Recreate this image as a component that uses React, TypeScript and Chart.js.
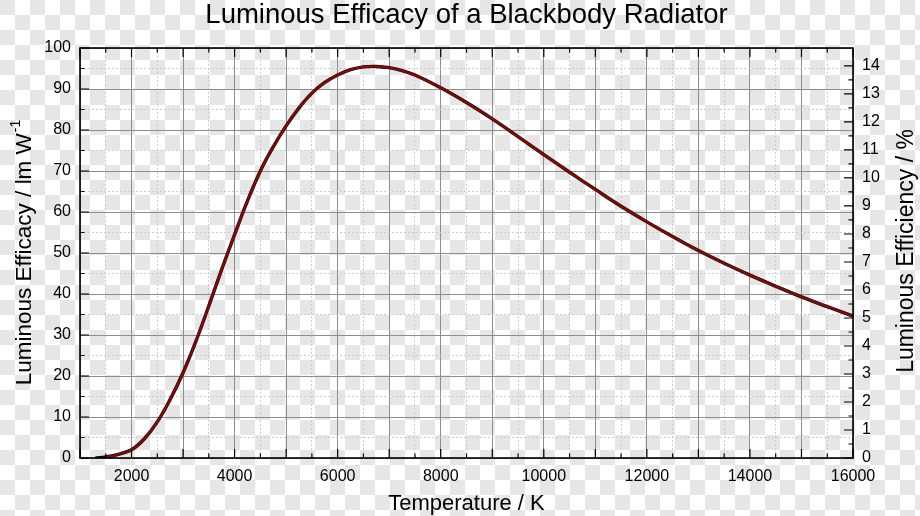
import React, { useEffect, useRef } from 'react';
import { Chart, registerables } from 'chart.js';

Chart.register(...registerables);

// ---- data ----
const temperatures = [
  1300, 1500, 1750, 2000, 2250, 2500, 2750, 3000, 3250, 3500, 3750, 4000, 4250, 4500, 4750,
  5000, 5250, 5500, 5750, 6000, 6250, 6500, 6750, 7000, 7250, 7500, 8000, 8500, 9000, 9500, 10000,
  10500, 11000, 11500, 12000, 12500, 13000, 13500, 14000, 14500, 15000, 15500, 16000,
];
const efficacy = [
  0.0, 0.25, 0.9, 2.0, 4.7, 8.8, 14.3, 20.8, 28.5, 37.1, 46.0, 54.5, 62.7, 70.0, 75.9,
  81.0, 85.4, 89.0, 91.6, 93.4, 94.7, 95.4, 95.5, 95.2, 94.5, 93.4, 90.3, 86.7, 82.7, 78.4, 74.0,
  69.7, 65.5, 61.4, 57.6, 54.0, 50.6, 47.5, 44.6, 41.9, 39.3, 36.9, 34.6,
];
const redStartTemperature = 1500;

const xTickLabels = [2000, 4000, 6000, 8000, 10000, 12000, 14000, 16000];
const leftTickLabels = [0, 10, 20, 30, 40, 50, 60, 70, 80, 90, 100];
const rightTickLabels = [0, 1, 2, 3, 4, 5, 6, 7, 8, 9, 10, 11, 12, 13, 14];

const TITLE = 'Luminous Efficacy of a Blackbody Radiator';
const X_TITLE = 'Temperature / K';
const Y_TITLE = 'Luminous Efficacy / lm W';
const Y_TITLE_SUP = '-1';
const Y1_TITLE = 'Luminous Efficiency / %';
const MAX_EFFICACY = 683; // lm/W at 100 %

const X_MIN = 1000;
const X_MAX = 16000;
const Y_MIN = 0;
const Y_MAX = 100;

const FONT = "'Liberation Sans', Arial, Helvetica, sans-serif";
const MAJOR_GRID = '#8e8e8e';
const MINOR_GRID = '#cdcdcd';

const axisDecor = {
  id: 'axisDecor',
  afterDatasetsDraw(chart: any) {
    const { ctx, chartArea } = chart;
    const { left, right, top, bottom } = chartArea;
    const sx = chart.scales.x;
    const sy = chart.scales.y;
    const sy1 = chart.scales.y1;
    ctx.save();
    ctx.strokeStyle = '#000';
    ctx.lineWidth = 1.2;
    ctx.beginPath();
    sx.ticks.forEach((t: any) => {
      const px = sx.getPixelForValue(t.value);
      const len = t.value % 1000 === 0 ? 9 : 4.5;
      ctx.moveTo(px, bottom);
      ctx.lineTo(px, bottom - len);
      ctx.moveTo(px, top);
      ctx.lineTo(px, top + len);
    });
    sy.ticks.forEach((t: any) => {
      const py = sy.getPixelForValue(t.value);
      const len = t.value % 10 === 0 ? 9 : 4.5;
      ctx.moveTo(left, py);
      ctx.lineTo(left + len, py);
    });
    sy1.ticks.forEach((t: any) => {
      const v = t.value;
      if (Math.abs(v * 2 - Math.round(v * 2)) > 1e-6) return;
      const py = sy1.getPixelForValue(v);
      const len = Number.isInteger(v) ? 9 : 4.5;
      ctx.moveTo(right, py);
      ctx.lineTo(right - len, py);
    });
    ctx.stroke();
    ctx.lineWidth = 1.6;
    ctx.strokeRect(left, top, right - left, bottom - top);
    ctx.restore();
  },
  afterDraw(chart: any) {
    const { ctx, chartArea } = chart;
    const cy = (chartArea.top + chartArea.bottom) / 2;
    ctx.save();
    ctx.fillStyle = '#000';
    ctx.textBaseline = 'alphabetic';
    ctx.textAlign = 'left';
    // left title with superscript
    ctx.font = `22.5px ${FONT}`;
    const w1 = ctx.measureText(Y_TITLE).width;
    ctx.font = `14px ${FONT}`;
    const w2 = ctx.measureText(Y_TITLE_SUP).width;
    ctx.translate(31, cy);
    ctx.rotate(-Math.PI / 2);
    const start = -(w1 + w2) / 2;
    ctx.font = `22.5px ${FONT}`;
    ctx.fillText(Y_TITLE, start, 0);
    ctx.font = `14px ${FONT}`;
    ctx.fillText(Y_TITLE_SUP, start + w1 + 1, -11);
    ctx.restore();

    ctx.save();
    ctx.fillStyle = '#000';
    ctx.textBaseline = 'alphabetic';
    ctx.textAlign = 'center';
    ctx.font = `23px ${FONT}`;
    ctx.translate(913, cy - 2);
    ctx.rotate(-Math.PI / 2);
    ctx.fillText(Y1_TITLE, 0, 0);
    ctx.restore();
  },
};

export default function App() {
  const canvasRef = useRef<HTMLCanvasElement | null>(null);

  useEffect(() => {
    const canvas = canvasRef.current;
    if (!canvas) return;
    const points = temperatures.map((t, i) => ({ x: t, y: efficacy[i] }));
    const redPoints = points.filter((p) => p.x >= redStartTemperature);

    const minorOnly = (step: number) => (s: any) => {
      s.ticks = s.ticks.filter((t: any) => Math.abs(t.value % step) > 1e-6);
    };

    const chart = new Chart(canvas, {
      type: 'line',
      data: {
        datasets: [
          {
            data: redPoints,
            borderColor: '#7c0c0c',
            borderWidth: 2.4,
            pointRadius: 0,
            tension: 0.4,
            yAxisID: 'y',
            order: 1,
          },
          {
            data: points,
            borderColor: '#1c0505',
            borderWidth: 3.4,
            pointRadius: 0,
            tension: 0.4,
            yAxisID: 'y',
            order: 2,
          },
        ],
      },
      options: {
        animation: false,
        responsive: true,
        maintainAspectRatio: false,
        layout: { padding: 0 },
        font: { family: FONT },
        plugins: {
          legend: { display: false },
          tooltip: { enabled: false },
          title: {
            display: true,
            text: TITLE,
            color: '#000',
            fullSize: false,
            font: { family: FONT, size: 27.5, weight: 'normal', lineHeight: 1.0 },
            padding: { top: 2, bottom: 18.5 },
          },
        },
        scales: {
          x: {
            type: 'linear',
            position: 'bottom',
            min: X_MIN,
            max: X_MAX,
            afterFit: (s: any) => {
              s.height = 58;
            },
            ticks: {
              stepSize: 500,
              autoSkip: false,
              maxRotation: 0,
              padding: 9,
              color: '#000',
              font: { family: FONT, size: 16 },
              callback: (v: any) => (xTickLabels.includes(v) ? String(v) : ''),
            },
            grid: {
              drawTicks: false,
              color: (c: any) => (c.tick && c.tick.value % 1000 === 0 ? MAJOR_GRID : 'rgba(0,0,0,0)'),
              lineWidth: 1,
            },
            border: { display: false },
            title: {
              display: true,
              text: X_TITLE,
              color: '#000',
              font: { family: FONT, size: 22, lineHeight: 1.1 },
              padding: { top: 0, bottom: 0 },
            },
          },
          xMinor: {
            type: 'linear',
            position: 'bottom',
            min: X_MIN,
            max: X_MAX,
            afterBuildTicks: minorOnly(1000),
            afterFit: (s: any) => {
              s.height = 0;
            },
            ticks: { stepSize: 500, autoSkip: false, display: false },
            grid: { drawTicks: false, color: MINOR_GRID, lineWidth: 1 },
            border: { display: false, dash: [2, 2] },
          },
          y: {
            type: 'linear',
            position: 'left',
            min: Y_MIN,
            max: Y_MAX,
            afterFit: (s: any) => {
              s.width = 80;
            },
            ticks: {
              stepSize: 5,
              autoSkip: false,
              padding: 9,
              color: '#000',
              font: { family: FONT, size: 16 },
              callback: (v: any) => (leftTickLabels.includes(v) ? String(v) : ''),
            },
            grid: {
              drawTicks: false,
              color: (c: any) => (c.tick && c.tick.value % 10 === 0 ? MAJOR_GRID : 'rgba(0,0,0,0)'),
              lineWidth: 1,
            },
            border: { display: false },
          },
          yMinor: {
            type: 'linear',
            position: 'left',
            min: Y_MIN,
            max: Y_MAX,
            afterBuildTicks: minorOnly(10),
            afterFit: (s: any) => {
              s.width = 0;
            },
            ticks: { stepSize: 5, autoSkip: false, display: false },
            grid: { drawTicks: false, color: MINOR_GRID, lineWidth: 1 },
            border: { display: false, dash: [2, 2] },
          },
          y1: {
            type: 'linear',
            position: 'right',
            min: 0,
            max: (Y_MAX / MAX_EFFICACY) * 100,
            afterFit: (s: any) => {
              s.width = 67;
            },
            ticks: {
              stepSize: 0.5,
              autoSkip: false,
              padding: 9,
              color: '#000',
              font: { family: FONT, size: 16 },
              callback: (v: any) => (rightTickLabels.includes(v) ? String(v) : ''),
            },
            grid: { drawTicks: false, drawOnChartArea: false },
            border: { display: false },
          },
        },
      },
      plugins: [axisDecor],
    } as any);

    return () => {
      chart.destroy();
    };
  }, []);

  return (
    <div
      style={{
        position: 'fixed',
        left: 0,
        top: 0,
        width: 920,
        height: 516,
        backgroundColor: '#fff',
        backgroundImage: 'repeating-conic-gradient(#fff 0 25%, #e6e6e6 0 50%)',
        backgroundSize: '30px 30px',
      }}
    >
      <canvas ref={canvasRef} />
    </div>
  );
}
